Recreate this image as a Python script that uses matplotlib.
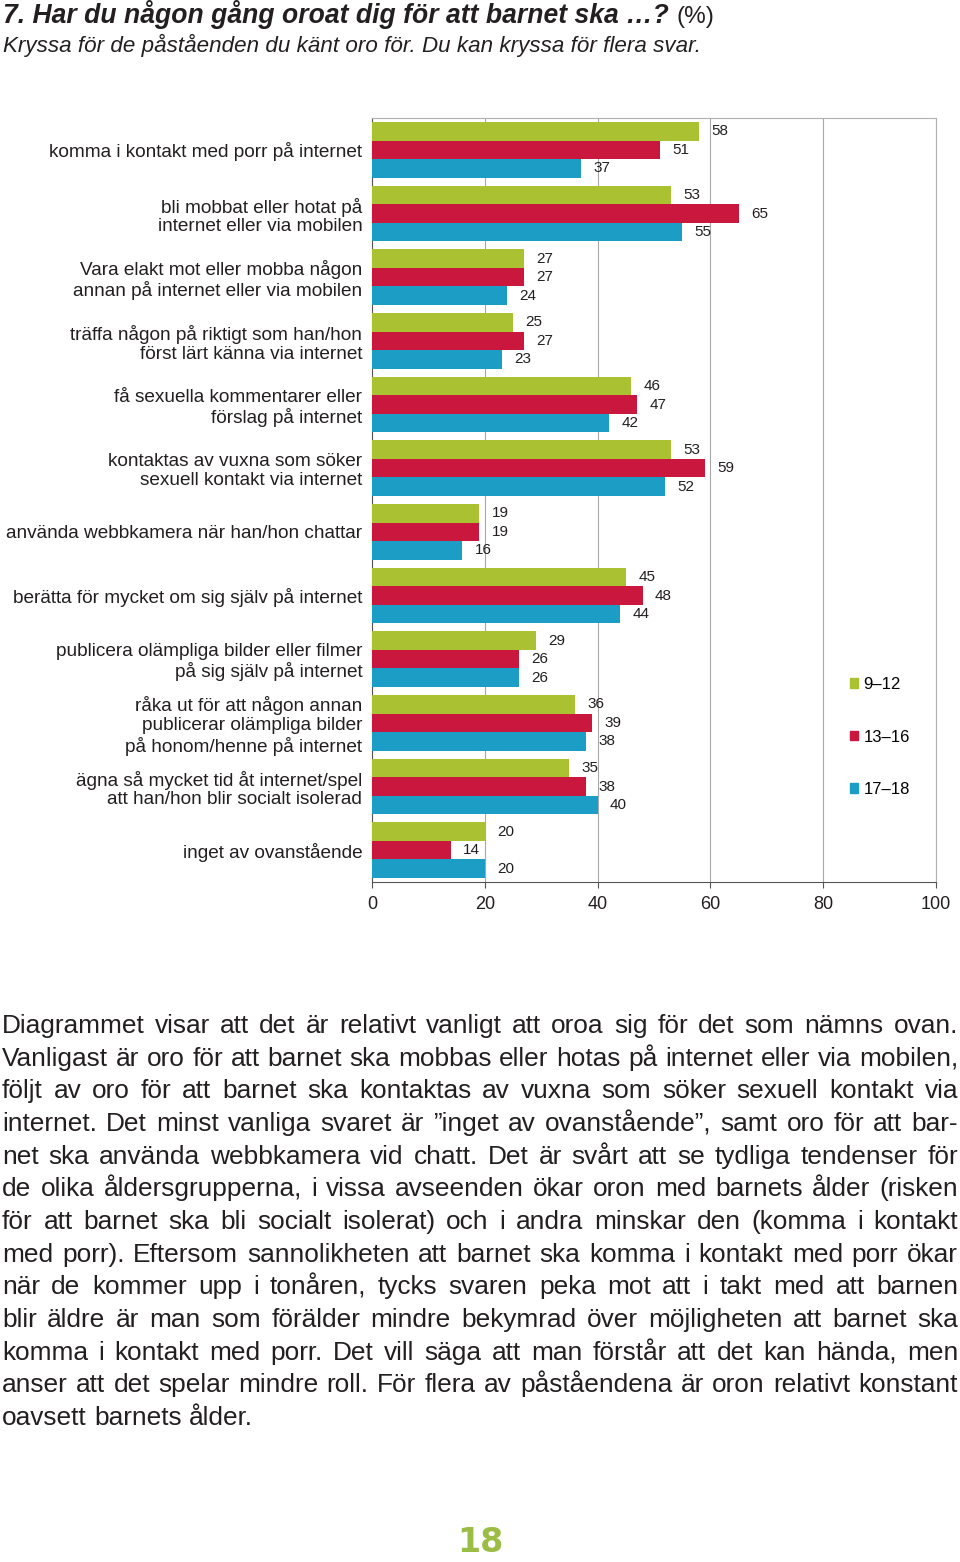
import matplotlib
matplotlib.use("Agg")
import matplotlib.pyplot as plt
from matplotlib.patches import Patch

# data
categories = [
    "komma i kontakt med porr på internet",
    "bli mobbat eller hotat på\ninternet eller via mobilen",
    "Vara elakt mot eller mobba någon\nannan på internet eller via mobilen",
    "träffa någon på riktigt som han/hon\nförst lärt känna via internet",
    "få sexuella kommentarer eller\nförslag på internet",
    "kontaktas av vuxna som söker\nsexuell kontakt via internet",
    "använda webbkamera när han/hon chattar",
    "berätta för mycket om sig själv på internet",
    "publicera olämpliga bilder eller filmer\npå sig själv på internet",
    "råka ut för att någon annan\npublicerar olämpliga bilder\npå honom/henne på internet",
    "ägna så mycket tid åt internet/spel\natt han/hon blir socialt isolerad",
    "inget av ovanstående",
]
age_9_12 = [58, 53, 27, 25, 46, 53, 19, 45, 29, 36, 35, 20]
age_13_16 = [51, 65, 27, 27, 47, 59, 19, 48, 26, 39, 38, 14]
age_17_18 = [37, 55, 24, 23, 42, 52, 16, 44, 26, 38, 40, 20]
series_labels = ["9–12", "13–16", "17–18"]
x_ticks = [0, 20, 40, 60, 80, 100]

title = "7. Har du någon gång oroat dig för att barnet ska …?"
subtitle = "Kryssa för de påståenden du känt oro för. Du kan kryssa för flera svar."
body = [
    "Diagrammet visar att det är relativt vanligt att oroa sig för det som nämns ovan.",
    "Vanligast är oro för att barnet ska mobbas eller hotas på internet eller via mobilen,",
    "följt av oro för att barnet ska kontaktas av vuxna som söker sexuell kontakt via",
    "internet. Det minst vanliga svaret är ”inget av ovanstående”, samt oro för att bar-",
    "net ska använda webbkamera vid chatt. Det är svårt att se tydliga tendenser för",
    "de olika åldersgrupperna, i vissa avseenden ökar oron med barnets ålder (risken",
    "för att barnet ska bli socialt isolerat) och i andra minskar den (komma i kontakt",
    "med porr). Eftersom sannolikheten att barnet ska komma i kontakt med porr ökar",
    "när de kommer upp i tonåren, tycks svaren peka mot att i takt med att barnen",
    "blir äldre är man som förälder mindre bekymrad över möjligheten att barnet ska",
    "komma i kontakt med porr. Det vill säga att man förstår att det kan hända, men",
    "anser att det spelar mindre roll. För flera av påståendena är oron relativt konstant",
    "oavsett barnets ålder.",
]
page_no = "18"

colors = ["#aac131", "#c9173d", "#1b9dc6"]
txt = "#231f20"

plt.rcParams["font.family"] = ["Liberation Sans", "DejaVu Sans"]

W, H = 960, 1562
fig = plt.figure(figsize=(W / 100, H / 100), dpi=100)
r = fig.canvas.get_renderer()

ax = fig.add_axes([372 / W, 1 - 882 / H, 564 / W, 764 / H])
h = 0.29
groups = range(len(categories))
for j, vals in enumerate([age_9_12, age_13_16, age_17_18]):
    ys = [i + (j - 1) * h for i in groups]
    ax.barh(ys, vals, height=h, color=colors[j], zorder=3, label=series_labels[j])
    for y, v in zip(ys, vals):
        ax.text(v + 3.7, y, str(v), ha="center", va="center", fontsize=11, color=txt)

ax.set_xlim(0, 100)
ax.set_ylim(len(categories) - 0.5, -0.5)
ax.set_xticks(x_ticks)
ax.set_xticklabels([str(t) for t in x_ticks], fontsize=13, color=txt)
ax.tick_params(axis="x", length=4, pad=6, color="#555555")
ax.set_yticks(list(groups))
ax.set_yticklabels(categories, fontsize=13.7, color=txt, linespacing=1.15)
ax.tick_params(axis="y", length=0, pad=7)
ax.grid(axis="x", color="#a8a8a8", linewidth=0.8, zorder=0)
for s in ["left", "bottom"]:
    ax.spines[s].set_color("#555555")
for s in ["top", "right"]:
    ax.spines[s].set_color("#b0b0b0")

handles = [Patch(color=c) for c in colors]
ax.legend(handles, series_labels, loc="upper left", bbox_to_anchor=(850 / W, 1 - 677 / H),
          bbox_transform=fig.transFigure, frameon=False, fontsize=12,
          handlelength=0.5, handleheight=0.5, handletextpad=0.3,
          labelspacing=2.25, borderpad=0, borderaxespad=0)

# title and subtitle, scaled to the width they have in the page
t1 = fig.text(3 / W, 1 - 23 / H, title, fontsize=20, fontweight="bold", fontstyle="italic",
              va="baseline", ha="left", color=txt)
w1 = t1.get_window_extent(r).width
t1.set_fontsize(20 * 665 / w1)
t3 = fig.text(676 / W, 1 - 23 / H, "(%)", fontsize=18, va="baseline", ha="left", color=txt)
t3.set_fontsize(18 * 38 / t3.get_window_extent(r).width)
t2 = fig.text(3 / W, 1 - 52 / H, subtitle, fontsize=16, fontstyle="italic",
              va="baseline", ha="left", color=txt)
w2 = t2.get_window_extent(r).width
t2.set_fontsize(16 * 694 / w2)

# justified body text
x0, x1 = 2, 958
probe = [fig.text(0, 0, line, fontsize=16) for line in body[:-1]]
widest = max(p.get_window_extent(r).width for p in probe)
for p in probe:
    p.remove()
body_size = 16 * 954 / widest
sp = (fig.text(0, 0, "a a", fontsize=body_size).get_window_extent(r).width
      - fig.text(0, 0, "aa", fontsize=body_size).get_window_extent(r).width)
for t in fig.texts[-2:]:
    t.remove()
for k, line in enumerate(body):
    y = 1 - (1033 + k * 32.67) / H
    words = line.split()
    objs = [fig.text(0, y, w, fontsize=body_size, va="baseline", ha="left", color=txt) for w in words]
    widths = [o.get_window_extent(r).width for o in objs]
    if k == len(body) - 1:
        gap = sp
    else:
        gap = (x1 - x0 - sum(widths)) / (len(words) - 1)
    x = x0
    for o, w in zip(objs, widths):
        o.set_x(x / W)
        x += w + gap

fig.text(480 / W, 1 - 1542 / H, page_no, fontsize=24, fontweight="bold", family="DejaVu Sans",
         color="#9cbd45", ha="center", va="center")

fig.savefig("out.png", dpi=100)
